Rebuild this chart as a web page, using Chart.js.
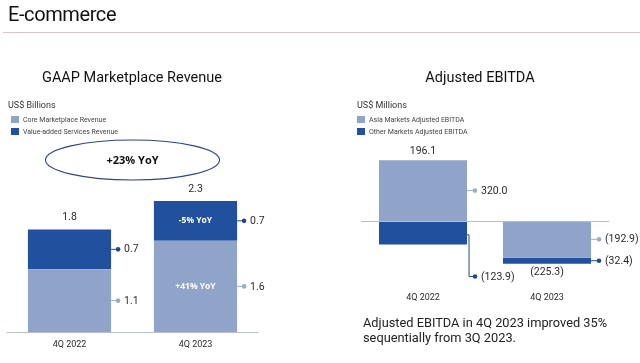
<!DOCTYPE html>
<html>
<head>
<meta charset="utf-8">
<script src="https://cdn.jsdelivr.net/npm/chart.js@4.4.1/dist/chart.umd.min.js"></script>
<style>
  body { margin: 0; width: 640px; height: 363px; position: relative; background: #fff; overflow: hidden; font-family: Roboto, "Open Sans", sans-serif; color: #222; }
  .box { position: absolute; top: 0; width: 320px; height: 363px; }
  .t { position: absolute; white-space: nowrap; }
  .sw { display: inline-block; width: 8px; height: 7px; margin-right: 4px; vertical-align: -1px; }
</style>
</head>
<body>
<div class="box" style="left:0"><canvas id="revChart" width="320" height="363"></canvas></div>
<div class="box" style="left:320px"><canvas id="ebitdaChart" width="320" height="363"></canvas></div>

<div class="t" style="left:8px;top:1px;font-size:20px;line-height:26px;letter-spacing:-0.4px;color:#111">E-commerce</div>
<div style="position:absolute;left:3px;top:32px;width:637px;height:1px;background:#dcc4c6"></div>

<div class="t" style="left:0;width:264px;text-align:center;top:69px;font-size:14.5px;line-height:18px;color:#111">GAAP Marketplace Revenue</div>
<div class="t" style="left:320px;width:320px;text-align:center;top:69px;font-size:14.5px;line-height:18px;color:#111">Adjusted EBITDA</div>

<div class="t" style="left:8px;top:99px;font-size:9px;line-height:12px;color:#333">US$ Billions</div>
<div class="t" id="revLegend" style="left:11px;top:114px;font-size:7px;line-height:12px;color:#444"></div>
<div class="t" style="left:357px;top:99px;font-size:9px;line-height:12px;color:#333">US$ Millions</div>
<div class="t" id="ebitdaLegend" style="left:357px;top:114px;font-size:7px;line-height:12px;color:#444"></div>

<div class="t" style="left:363px;top:315px;font-size:12.8px;line-height:15px;color:#222">Adjusted EBITDA in 4Q 2023 improved 35%<br>sequentially from 3Q 2023.</div>

<script>
// GAAP marketplace revenue, US$ billions
var revQuarters = ['4Q 2022', '4Q 2023'];
var revSeries = ['Core Marketplace Revenue', 'Value-added Services Revenue'];
var coreRevenue = [1.1, 1.6];
var vasRevenue = [0.7, 0.7];
var coreYoY = ['', '+41% YoY'];
var vasYoY = ['', '-5% YoY'];
var totalYoY = '+23% YoY';

// Adjusted EBITDA, US$ millions
var ebitdaQuarters = ['4Q 2022', '4Q 2023'];
var ebitdaSeries = ['Asia Markets Adjusted EBITDA', 'Other Markets Adjusted EBITDA'];
var asiaEbitda = [320.0, -192.9];
var otherEbitda = [-123.9, -32.4];

var LIGHT = '#90a3c8';
var DARK = '#21509e';
var DOT_LIGHT = '#a3abc2';
var DOT_DARK = '#24478c';

function legendHtml(names) {
  return '<span class="sw" style="background:' + LIGHT + '"></span>' + names[0] + '<br>' +
         '<span class="sw" style="background:' + DARK + '"></span>' + names[1];
}
document.getElementById('revLegend').innerHTML = legendHtml(revSeries);
document.getElementById('ebitdaLegend').innerHTML = legendHtml(ebitdaSeries);

function fmt(v, paren) {
  var s = Math.abs(v).toFixed(1);
  return (v < 0 && paren) ? '(' + s + ')' : s;
}

// draws baseline, side value tags, totals, inside notes, category labels
var annotate = {
  id: 'annotate',
  afterDatasetsDraw: function (chart, args, opts) {
    var ctx = chart.ctx, area = chart.chartArea;
    var ys = chart.scales.y, xs = chart.scales.x;
    var y0 = ys.getPixelForValue(0);
    ctx.save();
    ctx.strokeStyle = '#b9bdca';
    ctx.lineWidth = 1;
    ctx.beginPath();
    ctx.moveTo(area.left, y0 + 0.5);
    ctx.lineTo(area.right, y0 + 0.5);
    ctx.stroke();

    var n = chart.data.labels.length;
    for (var i = 0; i < n; i++) {
      var top = y0, bottom = y0, total = 0, cx = 0;
      chart.data.datasets.forEach(function (ds, di) {
        var bar = chart.getDatasetMeta(di).data[i];
        var p = bar.getProps(['x', 'y', 'base', 'width'], true);
        var v = ds.data[i];
        total += v;
        cx = p.x;
        top = Math.min(top, p.y, p.base);
        bottom = Math.max(bottom, p.y, p.base);
        var right = p.x + p.width / 2;
        var mid = (p.y + p.base) / 2;
        var col = di === 0 ? DOT_LIGHT : DOT_DARK;
        var ty = mid;
        ctx.strokeStyle = col;
        ctx.fillStyle = col;
        ctx.beginPath();
        if (opts.drop && opts.drop.dataset === di && opts.drop.index === i) {
          ty = Math.max(p.y, p.base) + opts.drop.offset;
          ctx.moveTo(right, mid + 2);
          ctx.lineTo(right + 2, mid + 2);
          ctx.lineTo(right + 2, ty);
          ctx.lineTo(right + opts.dotGap, ty);
        } else {
          ctx.moveTo(right, mid);
          ctx.lineTo(right + opts.dotGap, mid);
        }
        ctx.stroke();
        ctx.beginPath();
        ctx.arc(right + opts.dotGap, ty, 2.3, 0, Math.PI * 2);
        ctx.fill();
        ctx.fillStyle = '#2a2a2a';
        ctx.font = '10.5px Roboto';
        ctx.textAlign = 'left';
        ctx.textBaseline = 'middle';
        ctx.fillText(fmt(v, opts.paren), right + opts.dotGap + 6, ty + 0.5);
        var note = ds.notes ? ds.notes[i] : '';
        if (note) {
          ctx.fillStyle = '#ffffff';
          ctx.font = 'bold 8.5px "Open Sans"';
          ctx.textAlign = 'center';
          ctx.fillText(note, p.x, mid);
        }
      });
      ctx.fillStyle = '#2a2a2a';
      ctx.font = '10.5px Roboto';
      ctx.textAlign = 'center';
      ctx.textBaseline = 'middle';
      if (total >= 0) ctx.fillText(fmt(total, opts.paren), cx, top - opts.totalGap);
      else ctx.fillText(fmt(total, opts.paren), cx, bottom + opts.totalGap);
      ctx.font = '9px Roboto';
      ctx.fillText(chart.data.labels[i], xs.getPixelForValue(i), area.bottom + opts.labelGap);
    }

    if (opts.bubble) {
      var bx = (xs.getPixelForValue(0) + xs.getPixelForValue(n - 1)) / 2;
      var by = area.top - 1;
      ctx.strokeStyle = '#34447a';
      ctx.lineWidth = 1.1;
      ctx.beginPath();
      ctx.ellipse(bx, by, 87, 20, 0, 0, Math.PI * 2);
      ctx.stroke();
      ctx.fillStyle = '#111';
      ctx.font = 'bold 11px "Open Sans"';
      ctx.textAlign = 'center';
      ctx.fillText(opts.bubble, bx, by + 1);
    }
    ctx.restore();
  }
};

function baseOptions(pad, yMin, yMax, extra) {
  return {
    responsive: false,
    devicePixelRatio: 1,
    animation: false,
    layout: { padding: pad },
    scales: {
      x: { display: false, stacked: true },
      y: { display: false, stacked: true, min: yMin, max: yMax }
    },
    plugins: { legend: { display: false }, tooltip: { enabled: false }, annotate: extra }
  };
}

new Chart(document.getElementById('revChart'), {
  type: 'bar',
  data: {
    labels: revQuarters,
    datasets: [
      { label: revSeries[0], data: coreRevenue, notes: coreYoY, backgroundColor: LIGHT, barPercentage: 1, categoryPercentage: 0.66 },
      { label: revSeries[1], data: vasRevenue, notes: vasYoY, backgroundColor: DARK, barPercentage: 1, categoryPercentage: 0.66 }
    ]
  },
  options: baseOptions({ left: 6.5, right: 61.5, top: 161, bottom: 31 }, 0, 3,
    { dotGap: 7, totalGap: 12, labelGap: 13, paren: false, bubble: totalYoY }),
  plugins: [annotate]
});

new Chart(document.getElementById('ebitdaChart'), {
  type: 'bar',
  data: {
    labels: ebitdaQuarters,
    datasets: [
      { label: ebitdaSeries[0], data: asiaEbitda, backgroundColor: LIGHT, barPercentage: 1, categoryPercentage: 0.71 },
      { label: ebitdaSeries[1], data: otherEbitda, backgroundColor: DARK, barPercentage: 1, categoryPercentage: 0.71 }
    ]
  },
  options: baseOptions({ left: 41, right: 31, top: 145, bottom: 77.4 }, -340, 400,
    { dotGap: 8, totalGap: 9, labelGap: 12, paren: true, drop: { dataset: 1, index: 0, offset: 32 } }),
  plugins: [annotate]
});
</script>
</body>
</html>
